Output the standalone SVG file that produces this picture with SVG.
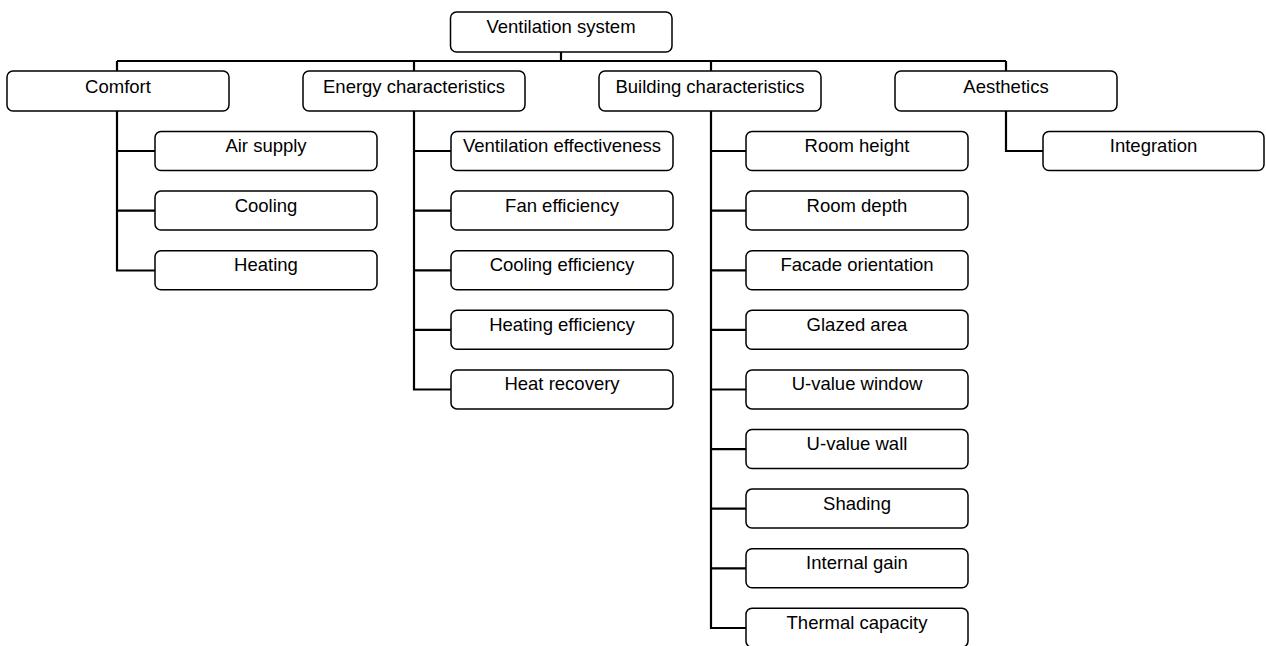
<svg xmlns="http://www.w3.org/2000/svg" width="1266" height="646" viewBox="0 0 1266 646">
<style>
.box{fill:#fff;stroke:#000;stroke-width:1.5}
.lbl{font-family:"Liberation Sans",Arial,sans-serif;font-size:18.5px;fill:#000;text-anchor:middle}
.con{fill:none;stroke:#000;stroke-width:2.2}
</style>
<rect width="1266" height="646" fill="#fff"/>
<g id="connectors">
<path class="con" d="M561,52V61M117,61H1006M117,61V71M414,61V71M711,61V71M1006,61V71"/>
<path class="con" d="M117,111V270.5H155M117,151H155M117,210.7H155"/>
<path class="con" d="M414,111V389.5H451M414,151H451M414,210.7H451M414,270.3H451M414,329.9H451"/>
<path class="con" d="M711,111V628H746M711,151H746M711,210.7H746M711,270.3H746M711,329.9H746M711,389.5H746M711,449.1H746M711,508.7H746M711,568.3H746"/>
<path class="con" d="M1006,111V151H1043"/>
</g>
<g id="n_root"><rect class="box" x="450.5" y="12" width="221.5" height="40" rx="6"/><text class="lbl" x="561" y="33">Ventilation system</text></g>
<g id="n_comfort"><rect class="box" x="7" y="71" width="222" height="40" rx="6"/><text class="lbl" x="118" y="92.5">Comfort</text></g>
<g id="n_energy"><rect class="box" x="303" y="71" width="222" height="40" rx="6"/><text class="lbl" x="414" y="92.5">Energy characteristics</text></g>
<g id="n_building"><rect class="box" x="599" y="71" width="222" height="40" rx="6"/><text class="lbl" x="710" y="92.5">Building characteristics</text></g>
<g id="n_aesthetics"><rect class="box" x="895" y="71" width="222" height="40" rx="6"/><text class="lbl" x="1006" y="92.5">Aesthetics</text></g>

<g id="n_airsupply"><rect class="box" x="155" y="131.5" width="222" height="39" rx="6"/><text class="lbl" x="266" y="152">Air supply</text></g>
<g id="n_cooling"><rect class="box" x="155" y="191.1" width="222" height="39" rx="6"/><text class="lbl" x="266" y="211.6">Cooling</text></g>
<g id="n_heating"><rect class="box" x="155" y="250.7" width="222" height="39" rx="6"/><text class="lbl" x="266" y="271.2">Heating</text></g>

<g id="n_venteff"><rect class="box" x="451" y="131.5" width="222" height="39" rx="6"/><text class="lbl" x="562" y="152">Ventilation effectiveness</text></g>
<g id="n_faneff"><rect class="box" x="451" y="191.1" width="222" height="39" rx="6"/><text class="lbl" x="562" y="211.6">Fan efficiency</text></g>
<g id="n_cooleff"><rect class="box" x="451" y="250.7" width="222" height="39" rx="6"/><text class="lbl" x="562" y="271.2">Cooling efficiency</text></g>
<g id="n_heateff"><rect class="box" x="451" y="310.3" width="222" height="39" rx="6"/><text class="lbl" x="562" y="330.8">Heating efficiency</text></g>
<g id="n_heatrec"><rect class="box" x="451" y="369.9" width="222" height="39" rx="6"/><text class="lbl" x="562" y="390.4">Heat recovery</text></g>

<g id="n_roomheight"><rect class="box" x="746" y="131.5" width="222" height="39" rx="6"/><text class="lbl" x="857" y="152">Room height</text></g>
<g id="n_roomdepth"><rect class="box" x="746" y="191.1" width="222" height="39" rx="6"/><text class="lbl" x="857" y="211.6">Room depth</text></g>
<g id="n_facade"><rect class="box" x="746" y="250.7" width="222" height="39" rx="6"/><text class="lbl" x="857" y="271.2">Facade orientation</text></g>
<g id="n_glazed"><rect class="box" x="746" y="310.3" width="222" height="39" rx="6"/><text class="lbl" x="857" y="330.8">Glazed area</text></g>
<g id="n_uwindow"><rect class="box" x="746" y="369.9" width="222" height="39" rx="6"/><text class="lbl" x="857" y="390.4">U-value window</text></g>
<g id="n_uwall"><rect class="box" x="746" y="429.5" width="222" height="39" rx="6"/><text class="lbl" x="857" y="450">U-value wall</text></g>
<g id="n_shading"><rect class="box" x="746" y="489.1" width="222" height="39" rx="6"/><text class="lbl" x="857" y="509.6">Shading</text></g>
<g id="n_internal"><rect class="box" x="746" y="548.7" width="222" height="39" rx="6"/><text class="lbl" x="857" y="569.2">Internal gain</text></g>
<g id="n_thermal"><rect class="box" x="746" y="608.3" width="222" height="39" rx="6"/><text class="lbl" x="857" y="628.8">Thermal capacity</text></g>

<g id="n_integration"><rect class="box" x="1043" y="131.5" width="221" height="39" rx="6"/><text class="lbl" x="1153.5" y="152">Integration</text></g>
</svg>
